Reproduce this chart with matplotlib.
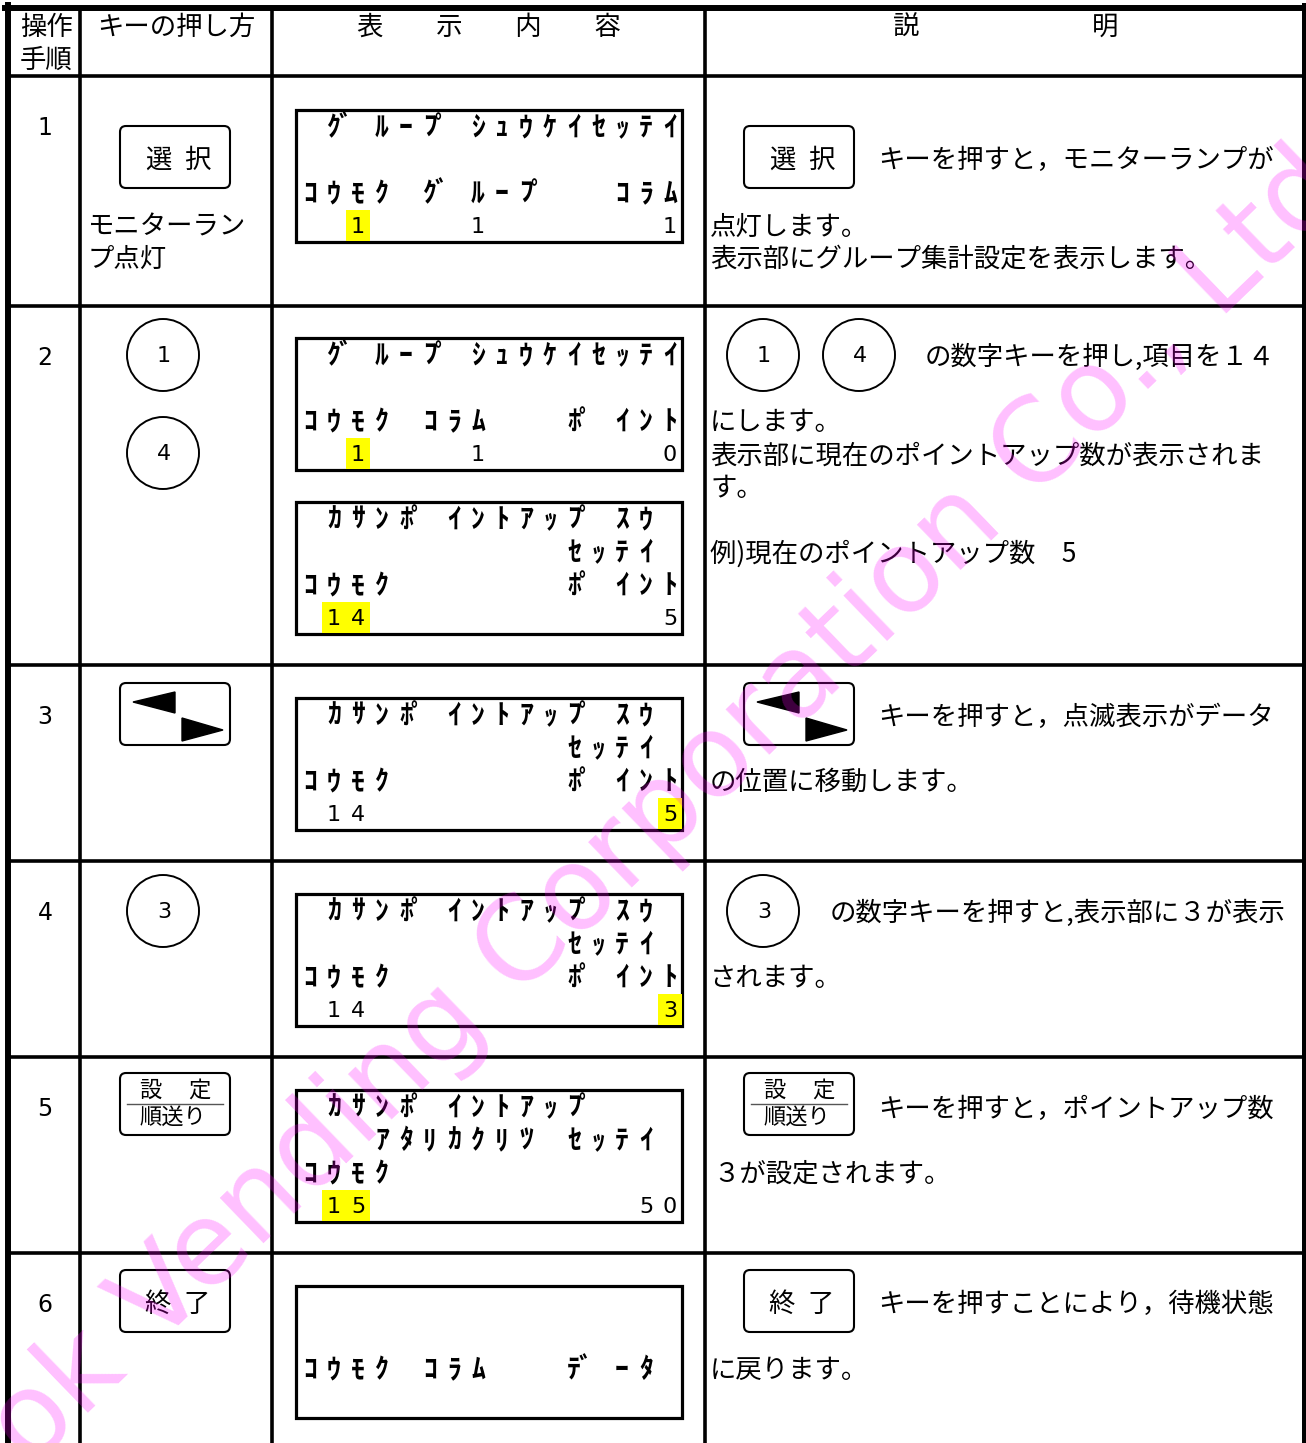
import matplotlib.pyplot as plt
from matplotlib.patches import Rectangle, Circle, FancyBboxPatch, Polygon

plt.rcParams['font.family'] = ['Noto Sans CJK JP', 'DejaVu Sans']

W, H = 1306, 1443

# table grid
col_x = [80, 272, 705]
row_y = [76, 306, 665, 861, 1057, 1253]
steps = ['1', '2', '3', '4', '5', '6']

# LCD screens: top edge, four 16-char lines, highlighted cells
lcd_tops = [110, 338, 502, 698, 894, 1090, 1286]
lcd_lines = [
    [" ｸﾞﾙｰﾌﾟｼｭｳｹｲｾｯﾃｲ", "", "ｺｳﾓｸ ｸﾞﾙｰﾌﾟ  ｺﾗﾑ", "  1    1       1"],
    [" ｸﾞﾙｰﾌﾟｼｭｳｹｲｾｯﾃｲ", "", "ｺｳﾓｸ ｺﾗﾑ   ﾎﾟｲﾝﾄ", "  1    1       0"],
    [" ｶｻﾝﾎﾟｲﾝﾄｱｯﾌﾟｽｳ ", "           ｾｯﾃｲ ", "ｺｳﾓｸ       ﾎﾟｲﾝﾄ", " 14            5"],
    [" ｶｻﾝﾎﾟｲﾝﾄｱｯﾌﾟｽｳ ", "           ｾｯﾃｲ ", "ｺｳﾓｸ       ﾎﾟｲﾝﾄ", " 14            5"],
    [" ｶｻﾝﾎﾟｲﾝﾄｱｯﾌﾟｽｳ ", "           ｾｯﾃｲ ", "ｺｳﾓｸ       ﾎﾟｲﾝﾄ", " 14            3"],
    [" ｶｻﾝﾎﾟｲﾝﾄｱｯﾌﾟ   ", "   ｱﾀﾘｶｸﾘﾂ ｾｯﾃｲ ", "ｺｳﾓｸ", " 15           50"],
    ["", "", "ｺｳﾓｸ ｺﾗﾑ   ﾃﾞｰﾀ ", ""],
]
lcd_marks = [[2], [2], [1, 2], [15], [15], [1, 2], []]

# keys in column 2 and column 4: (kind, label, x, y)
keys = [
    ('box', '選択', 120, 126), ('box', '選択', 744, 126),
    ('circle', '1', 163, 355), ('circle', '4', 163, 453),
    ('circle', '1', 763, 355), ('circle', '4', 859, 355),
    ('arrow', '', 120, 683), ('arrow', '', 744, 683),
    ('circle', '3', 163, 911), ('circle', '3', 763, 911),
    ('set', '設定', 120, 1073), ('set', '設定', 744, 1073),
    ('box', '終了', 120, 1270), ('box', '終了', 744, 1270),
]

# descriptive text: (x, y, text)
notes = [
    (88, 225, 'モニターラン'), (88, 257, 'プ点灯'),
    (878, 158, 'キーを押すと，モニターランプが'),
    (710, 225, '点灯します。'),
    (710, 257, '表示部にグループ集計設定を表示します。'),
    (925, 355, 'の数字キーを押し,項目を１４'),
    (710, 421, 'にします。'),
    (710, 454, '表示部に現在のポイントアップ数が表示されま'),
    (710, 487, 'す。'),
    (710, 552, '例)現在のポイントアップ数　5'),
    (878, 715, 'キーを押すと，点滅表示がデータ'),
    (710, 780, 'の位置に移動します。'),
    (830, 911, 'の数字キーを押すと,表示部に３が表示'),
    (710, 976, 'されます。'),
    (878, 1107, 'キーを押すと，ポイントアップ数'),
    (713, 1172, '３が設定されます。'),
    (878, 1302, 'キーを押すことにより，待機状態'),
    (710, 1368, 'に戻ります。'),
]

fig = plt.figure(figsize=(W / 100, H / 100), dpi=100)
ax = fig.add_axes([0, 0, 1, 1])
ax.set_xlim(0, W)
ax.set_ylim(H, 0)
ax.axis('off')

FS = 19
DY = 2  # nudge CJK text down to sit like the reference


def txt(x, y, s, **kw):
    kw.setdefault('fontsize', FS)
    kw.setdefault('va', 'center')
    ax.text(x, y + DY, s, **kw)


# grid lines
ax.plot([8, 8], [5, H], color='k', lw=4.3)
ax.plot([1303.5, 1303.5], [5, H], color='k', lw=3.6)
ax.plot([5, 1306], [8, 8], color='k', lw=4.3)
for x in col_x:
    ax.plot([x, x], [8, H], color='k', lw=2.6)
for y in row_y:
    ax.plot([8, 1303], [y, y], color='k', lw=2.6)

# header
txt(46, 25, '操作', ha='center')
txt(46, 58, '手順', ha='center')
txt(176, 25, 'キーの押し方', ha='center')
txt(489, 25, '表　　示　　内　　容', ha='center')
txt(906, 25, '説', ha='center')
txt(1105, 25, '明', ha='center')

for y0, s in zip(row_y, steps):
    ax.text(45, y0 + 52, s, ha='center', va='center', fontsize=17,
            family='DejaVu Sans')

# LCD screens
CELL, LX0, LW = 24, 298, 384
for top, lines, marks in zip(lcd_tops, lcd_lines, lcd_marks):
    ax.add_patch(Rectangle((296, top), LW + 2, 132, fill=False, ec='k', lw=2.3))
    for i in marks:
        ax.add_patch(Rectangle((LX0 + CELL * i - 0.5, top + 100), CELL, 31,
                               fc='#ffff00', ec='none'))
    for k, line in enumerate(lines):
        yc = top + 18 + 33 * k
        for i, ch in enumerate(line):
            if ch == ' ':
                continue
            xc = LX0 + CELL * i + CELL / 2
            if ch.isdigit():
                ax.text(xc, yc, ch, ha='center', va='center', fontsize=16,
                        family='DejaVu Sans')
            else:
                if ch in 'ﾞﾟ':
                    xc -= 13
                ax.text(xc, yc, ch, ha='center', va='center', fontsize=20,
                        fontweight='bold')

# keys
for kind, label, x, y in keys:
    if kind == 'circle':
        ax.add_patch(Circle((x, y), 36, fill=False, ec='k', lw=1.4))
        ax.text(x + 1, y + 1, label, ha='center', va='center', fontsize=16,
                family='DejaVu Sans')
        continue
    ax.add_patch(FancyBboxPatch((x, y), 110, 62,
                                boxstyle='round,pad=0,rounding_size=6',
                                fill=False, ec='k', lw=1.5))
    if kind == 'box':
        txt(x + 38, y + 32, label[0], ha='center')
        txt(x + 77, y + 32, label[1], ha='center')
    elif kind == 'arrow':
        ax.add_patch(Polygon([(x + 13, y + 19), (x + 55, y + 9), (x + 55, y + 30)],
                             closed=True, fc='k', ec='k'))
        ax.add_patch(Polygon([(x + 62, y + 35), (x + 62, y + 58), (x + 103, y + 47)],
                             closed=True, fc='k', ec='k'))
    else:
        txt(x + 30, y + 15, label[0], ha='center', fontsize=16)
        txt(x + 79, y + 15, label[1], ha='center', fontsize=16)
        ax.plot([x + 7, x + 103], [y + 31, y + 31], color='#555555', lw=1)
        txt(x + 53, y + 42, '順送り', ha='center', fontsize=16)

for x, y, s in notes:
    txt(x, y, s, ha='left')

# watermark
ax.text(668, 808, 'ok Vending Corporation Co., Ltd', ha='center', va='center',
        rotation=44, rotation_mode='anchor', fontsize=83,
        color='#ff00ff', alpha=0.25, family='DejaVu Sans', zorder=10)

fig.savefig('out.png', dpi=100)
